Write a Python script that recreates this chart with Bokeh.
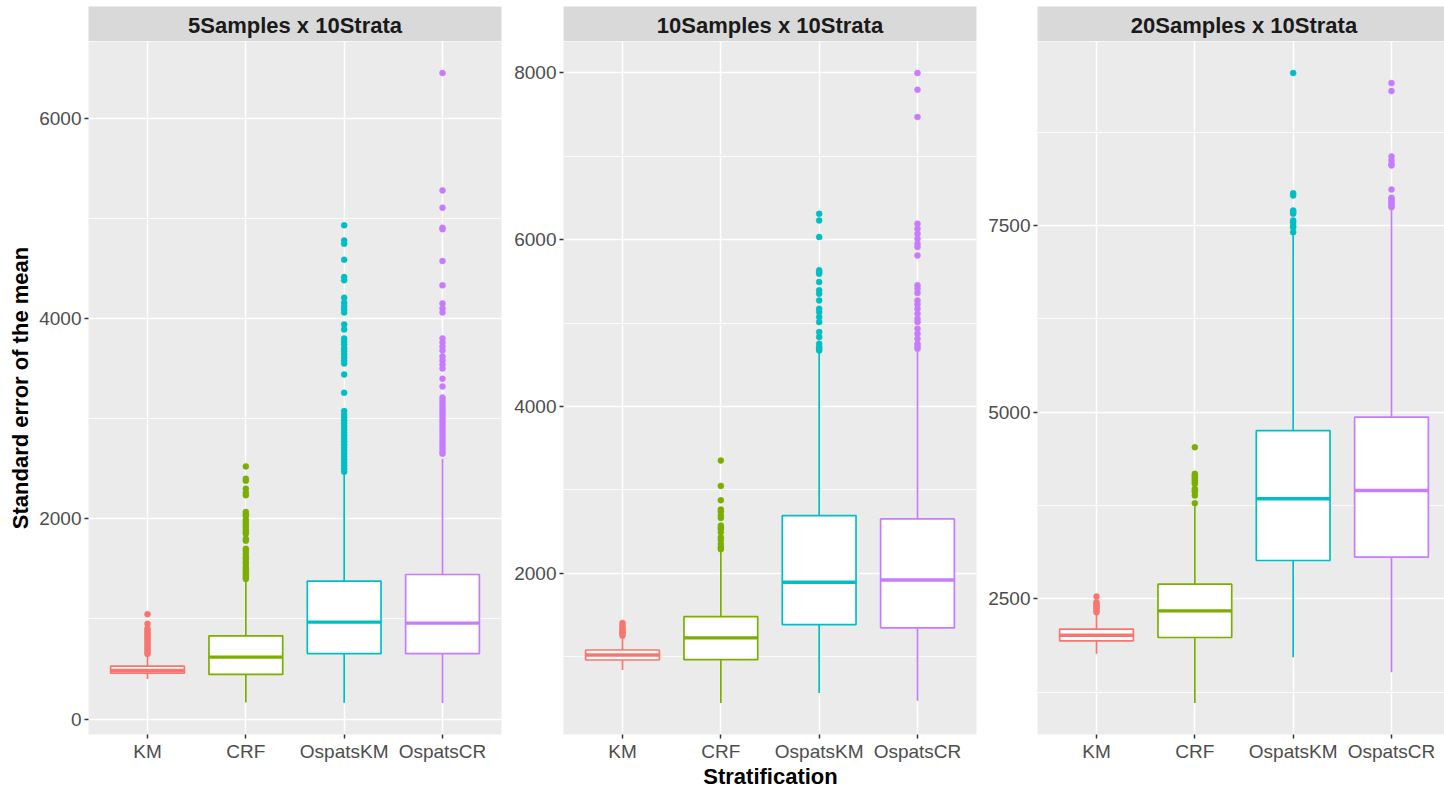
from bokeh.plotting import figure
from bokeh.layouts import row, column
from bokeh.models import Range1d, FixedTicker, ColumnDataSource
from bokeh.embed import file_html
from bokeh.resources import INLINE
from bokeh.core.properties import value

categories = ["KM", "CRF", "OspatsKM", "OspatsCR"]
colors = ["#F8766D", "#7CAE00", "#00BFC4", "#C77CFF"]
panel_titles = ["5Samples x 10Strata", "10Samples x 10Strata", "20Samples x 10Strata"]
y_title = "Standard error of the mean"
x_title = "Stratification"

# ---- Panel 1: 5Samples x 10Strata ----
p1_lower = [400, 165, 163, 161]
p1_q1 = [459, 446, 653, 653]
p1_median = [486, 619, 968, 958]
p1_q3 = [529, 832, 1378, 1444]
p1_upper = [636, 1385, 2450, 2600]
p1_out_km = [1048, 952, 905, 885, 865, 845, 825, 805, 785, 765, 745, 725, 705, 685, 665, 650]
p1_out_crf = [2523, 2400, 2380, 2300, 2260, 2235, 2068, 2040, 2030, 1990, 1968, 1940, 1918,
              1890, 1868, 1850, 1800, 1780, 1701, 1680, 1651, 1620, 1601, 1570, 1551, 1520,
              1500, 1480, 1460, 1440, 1418, 1400]
p1_out_okm = [4929, 4779, 4745, 4586, 4413, 4380, 4207, 4156, 4120, 4090, 4060, 3940, 3890,
              3800, 3770, 3740, 3700, 3670, 3640, 3610, 3580, 3550, 3441, 3258, 3075, 3040,
              3010, 2980, 2950, 2920, 2890, 2860, 2830, 2800, 2770, 2740, 2710, 2680, 2650,
              2620, 2590, 2560, 2530, 2500, 2470]
p1_out_ocr = [6450, 5278, 5105, 4906, 4890, 4573, 4330, 4150, 4100, 4060, 3800, 3760, 3720,
              3680, 3620, 3580, 3540, 3500, 3398, 3321, 3210, 3180, 3150, 3120, 3090, 3060,
              3030, 3000, 2970, 2940, 2910, 2880, 2850, 2820, 2790, 2760, 2730, 2700, 2670,
              2650]
p1_major = [0, 2000, 4000, 6000]
p1_minor = [1000, 3000, 5000]

# ---- Panel 2: 10Samples x 10Strata ----
p2_lower = [844, 448, 568, 476]
p2_q1 = [963, 967, 1387, 1347]
p2_median = [1023, 1228, 1894, 1922]
p2_q3 = [1083, 1483, 2693, 2653]
p2_upper = [1236, 2274, 4650, 4660]
p2_out_km = [1407, 1375, 1350, 1335, 1310, 1295, 1275, 1255]
p2_out_crf = [3352, 3049, 2877, 2765, 2740, 2693, 2665, 2573, 2550, 2533, 2493, 2433, 2400,
              2353, 2313, 2290]
p2_out_okm = [6309, 6229, 6030, 5631, 5610, 5591, 5491, 5391, 5351, 5271, 5171, 5131, 5071,
              5011, 4891, 4831, 4751, 4711, 4690, 4671]
p2_out_ocr = [7995, 7794, 7467, 6190, 6130, 6070, 6010, 5950, 5910, 5810, 5451, 5411, 5359,
              5271, 5223, 5171, 5111, 5051, 5011, 4931, 4871, 4811, 4751, 4720, 4691]
p2_major = [2000, 4000, 6000, 8000]
p2_minor = [1000, 3000, 5000, 7000]

# ---- Panel 3: 20Samples x 10Strata ----
p3_lower = [1763, 1105, 1718, 1517]
p3_q1 = [1937, 1982, 3013, 3057]
p3_median = [2013, 2339, 3839, 3950]
p3_q3 = [2093, 2696, 4753, 4932]
p3_upper = [2299, 3740, 7380, 7730]
p3_out_km = [2531, 2455, 2430, 2410, 2390, 2366, 2340, 2321]
p3_out_crf = [4530, 4173, 4150, 4129, 4106, 4084, 4060, 4039, 3972, 3950, 3928, 3883, 3780]
p3_out_okm = [9540, 7931, 7900, 7699, 7680, 7655, 7565, 7540, 7498, 7470, 7409]
p3_out_ocr = [9405, 9298, 8422, 8369, 8324, 8302, 7980, 7869, 7850, 7833, 7810, 7788, 7766, 7744]
p3_major = [2500, 5000, 7500]
p3_minor = [1250, 3750, 6250, 8750]

panels = [
    dict(lower=p1_lower, q1=p1_q1, med=p1_median, q3=p1_q3, upper=p1_upper,
         outs=[p1_out_km, p1_out_crf, p1_out_okm, p1_out_ocr], major=p1_major, minor=p1_minor),
    dict(lower=p2_lower, q1=p2_q1, med=p2_median, q3=p2_q3, upper=p2_upper,
         outs=[p2_out_km, p2_out_crf, p2_out_okm, p2_out_ocr], major=p2_major, minor=p2_minor),
    dict(lower=p3_lower, q1=p3_q1, med=p3_median, q3=p3_q3, upper=p3_upper,
         outs=[p3_out_km, p3_out_crf, p3_out_okm, p3_out_ocr], major=p3_major, minor=p3_minor),
]

FONT = "Liberation Sans"
TOTAL_W = 1444
PANEL_W = 413
PANEL_H = 693
STRIP_TOP = 6
STRIP_H = 35
BOTTOM = 30
TITLE_H = 23
UNIT_PX = PANEL_W / 4.2
layout_spec = [  # (border_left, frame_width, border_right)
    (88, 413, 7),
    (55, 413, 7),
    (54, 407, 0),
]

cols = []
for i, (pd_, (bl, fw, br)) in enumerate(zip(panels, layout_spec)):
    xs = list(range(1, len(categories) + 1))
    lo = min(min(pd_["lower"]), min(min(o) for o in pd_["outs"]))
    hi = max(max(pd_["upper"]), max(max(o) for o in pd_["outs"]))
    span = hi - lo
    y0, y1 = lo - 0.05 * span, hi + 0.05 * span
    x_end = 0.4 + fw / UNIT_PX
    xr = Range1d(0.4, x_end)
    width = bl + fw + br

    # facet strip
    s = figure(width=width, height=STRIP_TOP + STRIP_H, x_range=xr, y_range=Range1d(0, 1),
               x_axis_location=None, y_axis_location=None, toolbar_location=None,
               output_backend="svg", min_border_left=bl, min_border_right=br,
               min_border_top=STRIP_TOP, min_border_bottom=0,
               background_fill_color="#D9D9D9", border_fill_color="white",
               outline_line_color=None)
    s.grid.visible = False
    s.text(x=[2.5], y=[0.5], text=[panel_titles[i]], text_align="center",
           text_baseline="middle", text_font=value(FONT), text_font_style="bold",
           text_font_size="22px", text_color="#1A1A1A", y_offset=1)

    p = figure(width=width, height=PANEL_H + BOTTOM, x_range=xr, y_range=Range1d(y0, y1),
               toolbar_location=None, output_backend="svg",
               min_border_left=bl, min_border_right=br, min_border_top=0,
               min_border_bottom=BOTTOM, background_fill_color="#EBEBEB",
               border_fill_color="white", outline_line_color=None)

    yt = FixedTicker(ticks=pd_["major"], minor_ticks=pd_["minor"])
    p.yaxis.ticker = yt
    p.ygrid.ticker = yt
    p.xaxis.ticker = FixedTicker(ticks=xs)
    p.xgrid.ticker = FixedTicker(ticks=xs)
    p.xaxis.major_label_overrides = {x: c for x, c in zip(xs, categories)}
    p.grid.grid_line_color = "white"
    p.grid.grid_line_width = 1.5
    p.ygrid.minor_grid_line_color = "white"
    p.ygrid.minor_grid_line_width = 0.8
    for ax in (p.xaxis, p.yaxis):
        ax.axis_line_color = None
        ax.major_tick_line_color = "#333333"
        ax.major_tick_line_width = 1.5
        ax.major_tick_out = 4
        ax.major_tick_in = 0
        ax.minor_tick_line_color = None
        ax.major_label_text_font = FONT
        ax.major_label_text_font_size = "19px"
        ax.major_label_text_color = "#4D4D4D"
    p.xaxis.major_label_standoff = 2
    p.yaxis.major_label_standoff = 3

    if i == 0:
        p.yaxis.axis_label = y_title
        p.yaxis.axis_label_text_font = FONT
        p.yaxis.axis_label_text_font_style = "bold"
        p.yaxis.axis_label_text_font_size = "22px"
        p.yaxis.axis_label_text_color = "black"
        p.yaxis.axis_label_standoff = 3

    src = ColumnDataSource(dict(x=xs, lower=pd_["lower"], q1=pd_["q1"], med=pd_["med"],
                                q3=pd_["q3"], upper=pd_["upper"], color=colors,
                                left=[x - 0.375 for x in xs], right=[x + 0.375 for x in xs]))
    p.segment(x0="x", x1="x", y0="lower", y1="q1", line_color="color", line_width=1.7, source=src)
    p.segment(x0="x", x1="x", y0="q3", y1="upper", line_color="color", line_width=1.7, source=src)
    p.vbar(x="x", bottom="q1", top="q3", width=0.75, fill_color="white",
           line_color="color", line_width=1.7, source=src)
    p.segment(x0="left", x1="right", y0="med", y1="med", line_color="color",
              line_width=3.4, source=src)

    ox, oy, oc = [], [], []
    for x, o, c in zip(xs, pd_["outs"], colors):
        ox += [x] * len(o)
        oy += o
        oc += [c] * len(o)
    p.scatter(x=ox, y=oy, size=6, fill_color=oc, line_color=oc, line_width=0.5)

    cols.append(column(s, p, spacing=0))

# x-axis title strip below the panels
t = figure(width=TOTAL_W, height=TITLE_H, x_range=Range1d(0, TOTAL_W), y_range=Range1d(0, 1),
           x_axis_location=None, y_axis_location=None, toolbar_location=None,
           output_backend="svg", min_border=0, background_fill_color="white",
           border_fill_color="white", outline_line_color=None)
t.grid.visible = False
t.text(x=[770], y=[0.5], text=[x_title], text_align="center", text_baseline="middle",
       text_font=value(FONT), text_font_style="bold", text_font_size="22px",
       text_color="black")

layout = column(row(*cols, spacing=0), t, spacing=0)
open("out.html", "w").write(file_html(layout, INLINE))
